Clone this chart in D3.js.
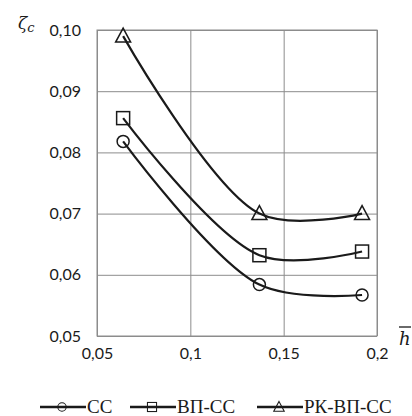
<!DOCTYPE html>
<html>
<head>
<meta charset="utf-8">
<script src="https://cdn.jsdelivr.net/npm/d3@7"></script>
<style>
  body { margin: 0; background: #fff; }
  svg text { fill: #1a1a1a; }
</style>
</head>
<body>
<div id="chart"></div>
<script>
// data
const hValues = [0.064, 0.137, 0.192];
const seriesNames = ["СС", "ВП-СС", "РК-ВП-СС"];
const seriesMarkers = ["circle", "square", "triangle"];
const valuesCC = [0.0818, 0.0584, 0.0567];
const valuesVPCC = [0.0856, 0.0632, 0.0638];
const valuesRKVPCC = [0.0990, 0.0700, 0.0700];
const xTicks = [0.05, 0.1, 0.15, 0.2];
const yTicks = [0.05, 0.06, 0.07, 0.08, 0.09, 0.10];

const allSeries = [valuesCC, valuesVPCC, valuesRKVPCC];

const width = 412, height = 416;
const margin = {top: 30, right: 35, bottom: 80, left: 97};
const innerW = width - margin.left - margin.right;
const innerH = height - margin.top - margin.bottom;

const svg = d3.select("#chart").append("svg")
  .attr("width", width)
  .attr("height", height);

const g = svg.append("g")
  .attr("transform", `translate(${margin.left},${margin.top})`);

const x = d3.scaleLinear().domain([0.05, 0.2]).range([0, innerW]);
const y = d3.scaleLinear().domain([0.05, 0.10]).range([innerH, 0]);

const fmtX = d => String(d).replace(".", ",");
const fmtY = d => d.toFixed(2).replace(".", ",");

// grid
g.append("g")
  .attr("transform", `translate(0,${innerH})`)
  .call(d3.axisBottom(x).tickValues(xTicks).tickSize(-innerH).tickFormat(fmtX).tickPadding(12))
  .call(a => a.select(".domain").remove())
  .call(a => a.selectAll("line").attr("stroke", "#8c8c8c"))
  .call(a => a.selectAll("text")
    .style("font-family", "Lato, 'Open Sans', sans-serif")
    .style("font-size", "16px"));

g.append("g")
  .call(d3.axisLeft(y).tickValues(yTicks).tickSize(-innerW).tickFormat(fmtY).tickPadding(16))
  .call(a => a.select(".domain").remove())
  .call(a => a.selectAll("line").attr("stroke", "#8c8c8c"))
  .call(a => a.selectAll("text")
    .style("font-family", "Lato, 'Open Sans', sans-serif")
    .style("font-size", "16px"));

g.append("rect")
  .attr("width", innerW).attr("height", innerH)
  .attr("fill", "none").attr("stroke", "#8c8c8c");

// axis titles
svg.append("text")
  .attr("x", 18).attr("y", 29)
  .style("font-family", "'DejaVu Serif', serif")
  .style("font-style", "italic")
  .style("font-size", "17px")
  .text("ζ")
  .append("tspan")
  .attr("dy", 3)
  .style("font-size", "13px")
  .text("c");

svg.append("text")
  .attr("x", 399).attr("y", 345)
  .style("font-family", "'DejaVu Serif', serif")
  .style("font-style", "italic")
  .style("font-size", "18px")
  .text("h");
svg.append("line")
  .attr("x1", 399).attr("x2", 411)
  .attr("y1", 327).attr("y2", 327)
  .attr("stroke", "#1a1a1a").attr("stroke-width", 1.3);

// lines
const line = d3.line()
  .x((d, i) => x(hValues[i]))
  .y(d => y(d))
  .curve(d3.curveCatmullRom.alpha(0.5));

allSeries.forEach(vals => {
  g.append("path")
    .datum(vals)
    .attr("d", line)
    .attr("fill", "none")
    .attr("stroke", "#1a1a1a")
    .attr("stroke-width", 2.2);
});

function drawMarker(sel, type, cx, cy) {
  if (type === "circle") {
    sel.append("circle").attr("cx", cx).attr("cy", cy).attr("r", 6)
      .attr("fill", "none").attr("stroke", "#1a1a1a").attr("stroke-width", 1.5);
  } else if (type === "square") {
    sel.append("rect").attr("x", cx - 6.5).attr("y", cy - 6.5).attr("width", 13).attr("height", 13)
      .attr("fill", "none").attr("stroke", "#1a1a1a").attr("stroke-width", 1.5);
  } else {
    sel.append("path")
      .attr("d", `M${cx},${cy - 8}L${cx + 7.5},${cy + 6}L${cx - 7.5},${cy + 6}Z`)
      .attr("fill", "none").attr("stroke", "#1a1a1a").attr("stroke-width", 1.5);
  }
}

allSeries.forEach((vals, s) => {
  vals.forEach((v, i) => drawMarker(g, seriesMarkers[s], x(hValues[i]), y(v)));
});

// legend
const legendX = [40, 130, 257];
const legend = svg.append("g").attr("transform", "translate(0,407)");
seriesNames.forEach((name, s) => {
  const lg = legend.append("g").attr("transform", `translate(${legendX[s]},0)`);
  lg.append("line").attr("x1", 0).attr("x2", 46).attr("y1", 0).attr("y2", 0)
    .attr("stroke", "#1a1a1a").attr("stroke-width", 2.6);
  lg.append("g").attr("transform", "scale(0.7)").call(sel => drawMarker(sel, seriesMarkers[s], 22 / 0.7, 0));
  lg.append("text")
    .attr("x", 47).attr("y", 6)
    .style("font-family", "'Liberation Serif', serif")
    .style("font-size", "19px")
    .text(name);
});
</script>
</body>
</html>
